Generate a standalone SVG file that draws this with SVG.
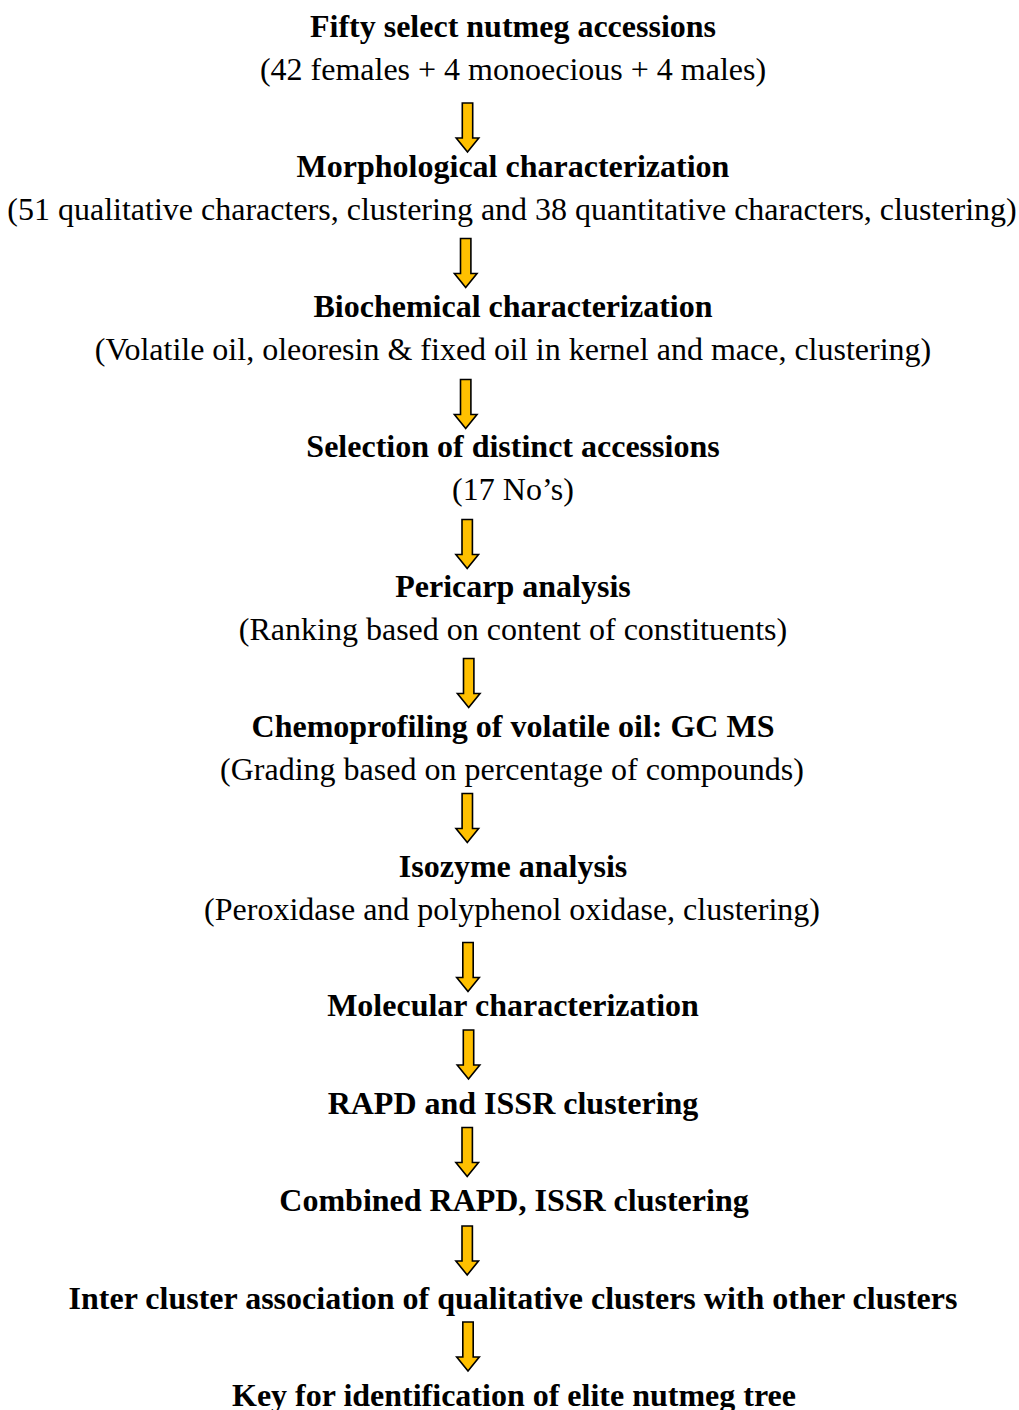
<svg xmlns="http://www.w3.org/2000/svg" xmlns:xlink="http://www.w3.org/1999/xlink" width="1019" height="1410" viewBox="0 0 1019 1410">
  <style>
    text { font-family: "Liberation Serif", "Times New Roman", serif; font-size: 32px; fill: #000; text-anchor: middle; }
    .t { font-weight: bold; }
    .arrow { fill: #FFC000; stroke: #000; stroke-width: 1.6; stroke-linejoin: miter; }
  </style>
  <defs>
    <path id="arr" class="arrow" d="M -5.2 0 H 5.2 V 35 H 11.3 L 0 49 L -11.3 35 H -5.2 Z"/>
  </defs>
  <rect width="1019" height="1410" fill="#fff"/>

  <g id="node1"><text class="t" x="513" y="37">Fifty select nutmeg accessions</text><text x="513" y="79.5">(42 females + 4 monoecious + 4 males)</text></g>
  <g id="node2"><text class="t" x="513" y="177">Morphological characterization</text><text x="512" y="219.5">(51 qualitative characters, clustering and 38 quantitative characters, clustering)</text></g>
  <g id="node3"><text class="t" x="513" y="317">Biochemical characterization</text><text x="513" y="359.5">(Volatile oil, oleoresin &amp; fixed oil in kernel and mace, clustering)</text></g>
  <g id="node4"><text class="t" x="513" y="457">Selection of distinct accessions</text><text x="513" y="499.5">(17 No’s)</text></g>
  <g id="node5"><text class="t" x="513" y="597">Pericarp analysis</text><text x="513" y="639.5">(Ranking based on content of constituents)</text></g>
  <g id="node6"><text class="t" x="513" y="737">Chemoprofiling of volatile oil: GC MS</text><text x="512" y="779.5">(Grading based on percentage of compounds)</text></g>
  <g id="node7"><text class="t" x="513" y="877">Isozyme analysis</text><text x="512" y="919.5">(Peroxidase and polyphenol oxidase, clustering)</text></g>
  <g id="node8"><text class="t" x="513" y="1015.5">Molecular characterization</text></g>
  <g id="node9"><text class="t" x="513" y="1113.5">RAPD and ISSR clustering</text></g>
  <g id="node10"><text class="t" x="514" y="1210.5">Combined RAPD, ISSR clustering</text></g>
  <g id="node11"><text class="t" x="513" y="1308.5">Inter cluster association of qualitative clusters with other clusters</text></g>
  <g id="node12"><text class="t" x="514" y="1405.5">Key for identification of elite nutmeg tree</text></g>

  <g id="connectors">
    <use xlink:href="#arr" href="#arr" transform="translate(467.5,103)"/>
    <use xlink:href="#arr" href="#arr" transform="translate(465.7,238.5)"/>
    <use xlink:href="#arr" href="#arr" transform="translate(465.7,379.5)"/>
    <use xlink:href="#arr" href="#arr" transform="translate(467.2,519.5)"/>
    <use xlink:href="#arr" href="#arr" transform="translate(468.7,658.5)"/>
    <use xlink:href="#arr" href="#arr" transform="translate(467.3,793.5)"/>
    <use xlink:href="#arr" href="#arr" transform="translate(468,942.5)"/>
    <use xlink:href="#arr" href="#arr" transform="translate(468.5,1030)"/>
    <use xlink:href="#arr" href="#arr" transform="translate(467.2,1127.5)"/>
    <use xlink:href="#arr" href="#arr" transform="translate(467.2,1226)"/>
    <use xlink:href="#arr" href="#arr" transform="translate(468,1322)"/>
  </g>
</svg>
